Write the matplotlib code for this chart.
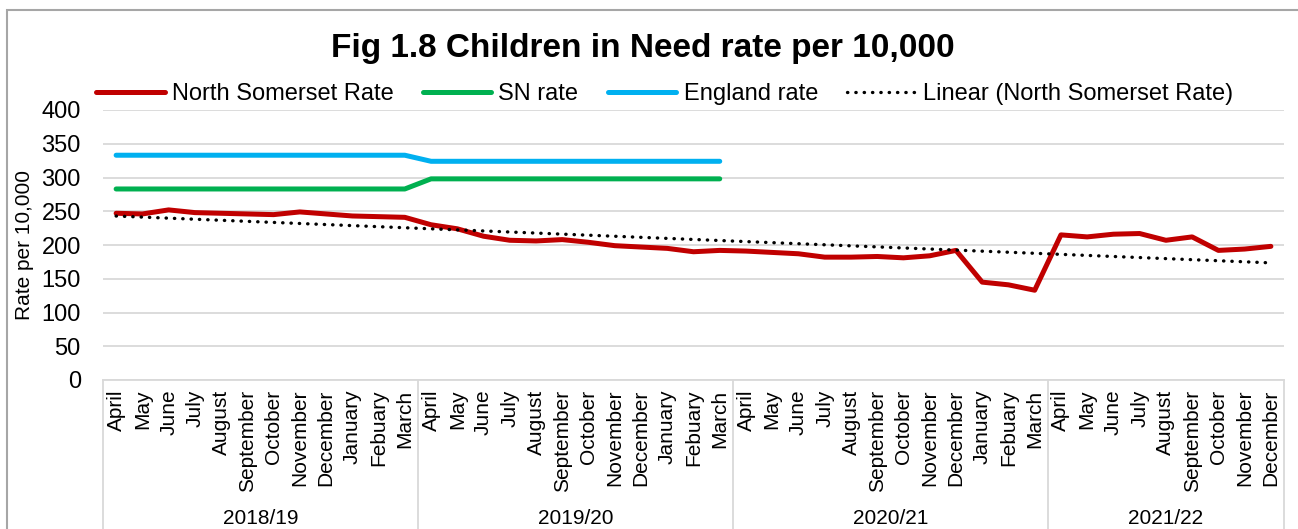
import numpy as np
import matplotlib
matplotlib.use("Agg")
import matplotlib.pyplot as plt
from matplotlib.patches import Rectangle

plt.rcParams['font.family'] = ['Liberation Sans', 'DejaVu Sans']

# data
years = ['2018/19', '2019/20', '2020/21', '2021/22']
months = ['April', 'May', 'June', 'July', 'August', 'September', 'October',
          'November', 'December', 'January', 'Febuary', 'March']
months_per_year = [12, 12, 12, 9]

ns_rate = [247, 246, 252, 248, 247, 246, 245, 249, 246, 243, 242, 241,
           230, 224, 213, 207, 206, 208, 204, 199, 197, 195, 190, 192,
           191, 189, 187, 182, 182, 183, 181, 184, 192, 145, 141, 133,
           215, 212, 216, 217, 207, 212, 192, 194, 198]
sn_rate = [283] * 12 + [298] * 12
england_rate = [333] * 12 + [324] * 12

tick_labels = []
for n in months_per_year:
    tick_labels += months[:n]
x = np.arange(len(ns_rate))

fig = plt.figure(figsize=(12.98, 5.29), dpi=100)
ax = fig.add_axes([103 / 1298, 1 - 380 / 529, 1181 / 1298, 270 / 529])

ax.plot(x, ns_rate, color='#c00000', lw=3.6, solid_capstyle='round',
        solid_joinstyle='round', label='North Somerset Rate', zorder=4)
ax.plot(x[:len(sn_rate)], sn_rate, color='#00b050', lw=3.6, solid_capstyle='round',
        label='SN rate', zorder=3)
ax.plot(x[:len(england_rate)], england_rate, color='#00b0f0', lw=3.6,
        solid_capstyle='round', label='England rate', zorder=3)

# linear trendline, like Excel's
coef = np.polyfit(x, ns_rate, 1)
ax.plot(x, np.polyval(coef, x), color='black', lw=2.4, linestyle=(0, (0.1, 2.4)),
        dash_capstyle='round', label='Linear (North Somerset Rate)', zorder=5)

ax.set_xlim(-0.5, len(x) - 0.5)
ax.set_ylim(0, 400)
ax.set_yticks(range(0, 401, 50))
ax.yaxis.grid(True, color='#d9d9d9', lw=1.3)
ax.set_axisbelow(True)
for s in ax.spines.values():
    s.set_visible(False)
ax.tick_params(axis='y', length=0, pad=16, labelsize=17)
ax.set_xticks(x)
ax.set_xticklabels(tick_labels, rotation=90, fontsize=15, va='top', ha='center')
ax.tick_params(axis='x', length=0, pad=7)

# category axis box with year groups
trans = ax.get_xaxis_transform()
ax.plot([-0.5, len(x) - 0.5], [0, 0], color='#d9d9d9', lw=1.3, transform=trans,
        clip_on=False)
edges = np.concatenate([[0], np.cumsum(months_per_year)]) - 0.5
for e in edges:
    ax.plot([e, e], [0, -0.6], color='#d9d9d9', lw=1.3, transform=trans, clip_on=False)
for i, yr in enumerate(years):
    ax.text((edges[i] + edges[i + 1]) / 2, -0.512, yr, transform=trans,
            ha='center', va='center', fontsize=15)

fig.text(25 / 1298, 0.5 - (245 - 264.5) / 529, 'Rate per 10,000', rotation=90,
         ha='center', va='center', fontsize=15)
fig.text(0.495, 1 - 48 / 529, 'Fig 1.8 Children in Need rate per 10,000',
         ha='center', va='center', fontsize=24, fontweight='bold')

ax.legend(loc='center', bbox_to_anchor=(0.512, 1 - 94 / 529),
          bbox_transform=fig.transFigure, ncol=4, frameon=False, fontsize=17,
          handlelength=2.9, handletextpad=0.3, columnspacing=1.25,
          borderpad=0, borderaxespad=0)

fig.add_artist(Rectangle((7 / 1298, -0.1), 1.1, 1.1 - 10 / 529, transform=fig.transFigure,
                         fill=False, edgecolor='#a6a6a6', lw=1.5))

fig.savefig('out.png', dpi=100)
